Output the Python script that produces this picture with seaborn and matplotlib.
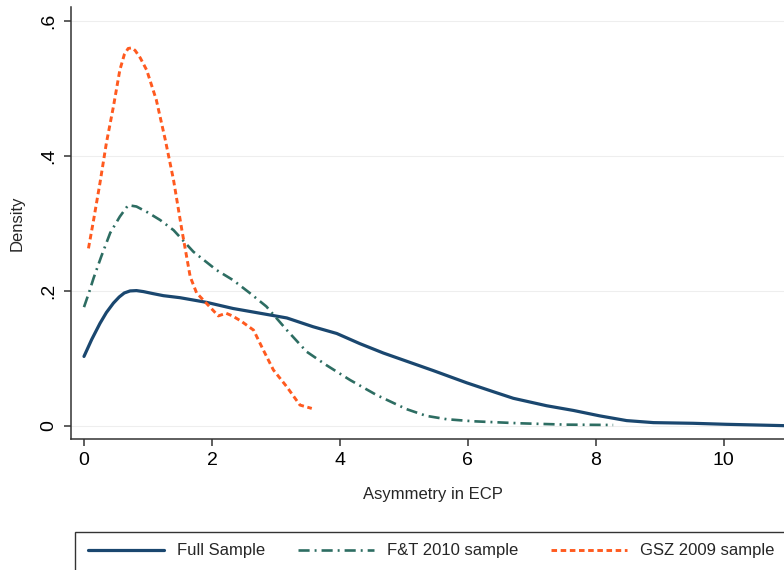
import matplotlib
matplotlib.use("Agg")
import matplotlib.pyplot as plt
import seaborn as sns
from matplotlib.patches import Rectangle

sns.set_style("ticks")
plt.rcParams["font.family"] = ["Liberation Sans", "DejaVu Sans"]
plt.rcParams["lines.scale_dashes"] = False

# Kernel density curves
full_x = [0, 0.12, 0.25, 0.35, 0.46, 0.55, 0.63, 0.72, 0.82, 0.93, 1.08, 1.24, 1.5, 1.92,
          2.33, 2.75, 3.17, 3.58, 3.95, 4.31, 4.68, 5.04, 5.46, 5.98, 6.39, 6.71, 7.23,
          7.65, 8.06, 8.48, 8.9, 9.52, 10.04, 10.5, 10.94]
full_y = [0.103, 0.128, 0.152, 0.168, 0.182, 0.191, 0.197, 0.200, 0.2005, 0.199, 0.196,
          0.193, 0.190, 0.183, 0.174, 0.167, 0.160, 0.147, 0.137, 0.122, 0.108, 0.096,
          0.082, 0.064, 0.051, 0.041, 0.030, 0.023, 0.015, 0.008, 0.005, 0.004, 0.0025,
          0.0015, 0.0005]

ft_x = [0, 0.08, 0.15, 0.27, 0.41, 0.56, 0.69, 0.82, 1.0, 1.19, 1.40, 1.71, 2.07, 2.33,
        2.59, 2.85, 3.17, 3.48, 3.79, 4.16, 4.57, 5.04, 5.35, 5.67, 6.08, 6.81, 7.54, 8.27]
ft_y = [0.176, 0.198, 0.219, 0.251, 0.286, 0.310, 0.327, 0.325, 0.316, 0.305, 0.290,
        0.258, 0.231, 0.216, 0.197, 0.177, 0.142, 0.110, 0.090, 0.068, 0.046, 0.025,
        0.015, 0.010, 0.007, 0.004, 0.002, 0.0015]

gsz_x = [0.07, 0.15, 0.25, 0.35, 0.46, 0.56, 0.63, 0.69, 0.75, 0.80, 0.88, 0.98, 1.13,
         1.27, 1.40, 1.53, 1.66, 1.76, 1.94, 2.10, 2.22, 2.32, 2.46, 2.65, 2.80, 2.96,
         3.17, 3.375, 3.56]
gsz_y = [0.263, 0.305, 0.360, 0.419, 0.473, 0.527, 0.550, 0.559, 0.560, 0.556, 0.545,
         0.527, 0.483, 0.424, 0.364, 0.290, 0.221, 0.197, 0.179, 0.163, 0.167, 0.163,
         0.155, 0.142, 0.113, 0.083, 0.058, 0.031, 0.026]

labels = ["Full Sample", "F&T 2010 sample", "GSZ 2009 sample"]
x_ticks = [0, 2, 4, 6, 8, 10]
y_ticks = [0, 0.2, 0.4, 0.6]
y_ticklabels = ["0", ".2", ".4", ".6"]

fig = plt.figure(figsize=(7.84, 5.70), dpi=100)
ax = fig.add_axes([71 / 784, 1 - 439.3 / 570, (784 - 71) / 784, (439.3 - 7.3) / 570])

sns.lineplot(x=full_x, y=full_y, ax=ax, color="#1a476f", linewidth=2.3,
             sort=False, label=labels[0])
sns.lineplot(x=ft_x, y=ft_y, ax=ax, color="#2d6d62", linewidth=1.9,
             linestyle=(0, (8, 3.6, 1.4, 3.6)), sort=False, label=labels[1])
sns.lineplot(x=gsz_x, y=gsz_y, ax=ax, color="#ff5a1f", linewidth=2.1,
             linestyle=(0, (4, 2.6)), sort=False, label=labels[2])

ax.set_xlim(-0.203, 10.94)
ax.set_ylim(-0.0197, 0.620)
ax.set_xticks(x_ticks)
ax.set_yticks(y_ticks)
ax.set_yticklabels(y_ticklabels)

for side in ["top", "right"]:
    ax.spines[side].set_visible(False)
for side in ["left", "bottom"]:
    ax.spines[side].set_color("#333333")
    ax.spines[side].set_linewidth(1.1)

ax.tick_params(axis="both", length=5, width=1.1, color="#333333", labelsize=14,
               labelcolor="black")
ax.tick_params(axis="x", pad=4)
ax.tick_params(axis="y", pad=5, labelrotation=90)
for t in ax.get_yticklabels():
    t.set_va("center")

ax.yaxis.grid(True, color="#eeeeee", linewidth=0.8)
ax.xaxis.grid(False)
ax.set_axisbelow(True)

ax.set_xlabel("Asymmetry in ECP", fontsize=12)
ax.set_ylabel("Density", fontsize=12)
ax.xaxis.set_label_coords(0.507, -0.110)
ax.yaxis.set_label_coords(-0.0757, 0.5)
ax.yaxis.label.set_va("center")

# legend below the plot, frame running off the canvas like the original
handles, lbls = ax.get_legend_handles_labels()
ax.get_legend().remove()
fig.legend(handles, lbls, ncol=3, loc="center left",
           bbox_to_anchor=(88 / 784, 1 - 551 / 570), frameon=False,
           fontsize=12, handlelength=4.55, handletextpad=0.8, columnspacing=1.95,
           borderpad=0, borderaxespad=0)
fig.patches.append(Rectangle((75 / 784, -0.1), 1.0, 0.1 + (570 - 532) / 570,
                             transform=fig.transFigure, fill=False,
                             edgecolor="#333333", linewidth=1.0))

fig.savefig("out.png", dpi=100)
